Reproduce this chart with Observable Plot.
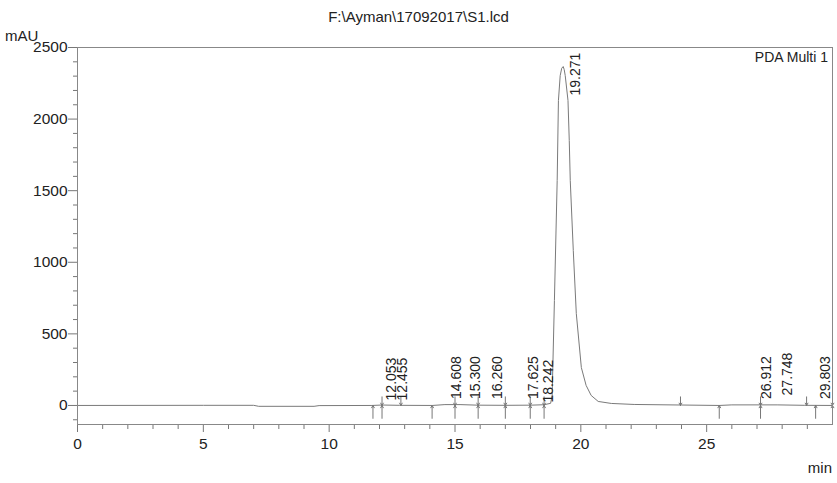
<!DOCTYPE html>
<html>
<head>
<meta charset="utf-8">
<script src="https://cdn.jsdelivr.net/npm/d3@7"></script>
<script src="https://cdn.jsdelivr.net/npm/@observablehq/plot@0.6"></script>
<style>
  body { margin: 0; background: #fff; font-family: "Liberation Sans", Arial, sans-serif; }
  #wrap { position: relative; width: 837px; height: 483px; overflow: hidden; background: #fff; }
  #title { position: absolute; left: 0; width: 837px; top: 8px; text-align: center; font-size: 15px; line-height: 17px; color: #222; white-space: nowrap; }
  #unit { position: absolute; left: 5px; top: 27px; font-size: 15px; line-height: 17px; color: #222; white-space: nowrap; }
  #channel { position: absolute; right: 9px; top: 49px; font-size: 14px; line-height: 16px; color: #222; white-space: nowrap; }
  #xunit { position: absolute; right: 5px; top: 459px; font-size: 15px; line-height: 17px; color: #222; white-space: nowrap; }
  #chart { position: absolute; left: 0; top: 0; }
  #chart svg g[aria-label="x-axis tick label"] text,
  #chart svg g[aria-label="y-axis tick label"] text { font-size: 15.5px; fill: #222; }
</style>
</head>
<body>
<div id="wrap">
  <div id="chart"></div>
  <div id="title">F:\Ayman\17092017\S1.lcd</div>
  <div id="unit">mAU</div>
  <div id="channel">PDA Multi 1</div>
  <div id="xunit">min</div>
</div>
<script>
// Chromatogram trace: retention time (min) and absorbance (mAU)
const traceTimes = [0, 5, 7, 7.2, 9.4, 9.6, 11.7, 12.1, 12.8, 14.1, 14.6, 15.2, 15.9, 17.0, 18.0, 18.54,
  18.80, 18.86, 18.95, 19.06, 19.11, 19.18, 19.24, 19.30, 19.34, 19.38, 19.49, 19.54, 19.58, 19.70, 19.82, 20.02, 20.21, 20.41,
  20.69, 21.21, 22.12, 24.0, 25.5, 26.0, 27.8, 28.9, 30];
const traceValues = [0, 1, 1, -6, -6, -1, 0, 3, 1, 0, 6, 6, 2, 1, 2, 5,
  15, 70, 733, 1571, 2130, 2304, 2355, 2367, 2345, 2304, 2130, 1851, 1571, 1082, 642, 265, 140, 70,
  28, 14, 7, 3, 0, 4, 4, 1, 0];

// Peak retention-time labels and where they sit
const peakLabels = ["12.053", "12.455", "14.608", "15.300", "16.260", "17.625", "18.242", "19.271", "26.912", "27.748", "29.803"];
const labelTimes = [12.46, 12.93, 15.08, 15.80, 16.70, 18.10, 18.70, 19.78, 27.38, 28.21, 29.73];
const labelHeights = [35, 35, 45, 45, 45, 45, 20, 2165, 45, 70, 45];

// Integration markers
const peakMarkTimes = [12.10, 15.0, 15.92, 17.0, 17.99, 18.54, 27.14, 30.0];
const upArrowTimes = [11.74, 14.09, 25.5, 29.33];
const downArrowTimes = [12.85, 23.96, 28.97];

// Axis ticks
const xMajorTicks = [0, 5, 10, 15, 20, 25];
const xMinorTicks = [1,2,3,4,6,7,8,9,11,12,13,14,16,17,18,19,21,22,23,24,26,27,28,29];
const yMajorTicks = [0, 500, 1000, 1500, 2000, 2500];
const yMinorTicks = [-100,100,200,300,400,600,700,800,900,1100,1200,1300,1400,1600,1700,1800,1900,2100,2200,2300,2400];

const trace = traceTimes.map((t, i) => ({t, v: traceValues[i]}));
const labels = peakLabels.map((label, i) => ({label, t: labelTimes[i], h: labelHeights[i]}));
const downArrows = [...peakMarkTimes, ...downArrowTimes].map(t => ({t, y1: 60, y2: 0}));
const upArrows = [...peakMarkTimes, ...upArrowTimes].map(t => ({t, y1: -90, y2: 0}));

const chart = Plot.plot({
  width: 837,
  height: 483,
  marginLeft: 77,
  marginRight: 5,
  marginTop: 47,
  marginBottom: 59,
  style: {fontFamily: "'Liberation Sans', Arial, sans-serif", fontSize: "15px", color: "#222", background: "transparent"},
  x: {domain: [0, 30], label: null},
  y: {domain: [-133, 2500], label: null},
  marks: [
    Plot.axisX({ticks: xMinorTicks, tickSize: 5, tickFormat: () => "", label: null, stroke: "#777"}),
    Plot.axisX({ticks: xMajorTicks, tickSize: 8, tickPadding: 5, tickFormat: d => String(d), label: null, stroke: "#777", fill: "#222", fontSize: 15}),
    Plot.axisY({ticks: yMinorTicks, tickSize: 4, tickFormat: () => "", label: null, stroke: "#777"}),
    Plot.axisY({ticks: yMajorTicks, tickSize: 9, tickPadding: 1, tickFormat: d => String(d), label: null, stroke: "#777", fill: "#222", fontSize: 15}),
    Plot.line(trace, {x: "t", y: "v", stroke: "#7a7a7a", strokeWidth: 1, curve: "linear"}),
    Plot.arrow(downArrows, {x1: "t", x2: "t", y1: "y1", y2: "y2", stroke: "#777", strokeWidth: 1, headLength: 4}),
    Plot.arrow(upArrows, {x1: "t", x2: "t", y1: "y1", y2: "y2", stroke: "#777", strokeWidth: 1, headLength: 4}),
    Plot.text(labels, {x: "t", y: "h", text: "label", rotate: -90, textAnchor: "start", fontSize: 14, fill: "#222"}),
    Plot.frame({stroke: "#888"})
  ]
});
document.getElementById("chart").appendChild(chart);
</script>
</body>
</html>
